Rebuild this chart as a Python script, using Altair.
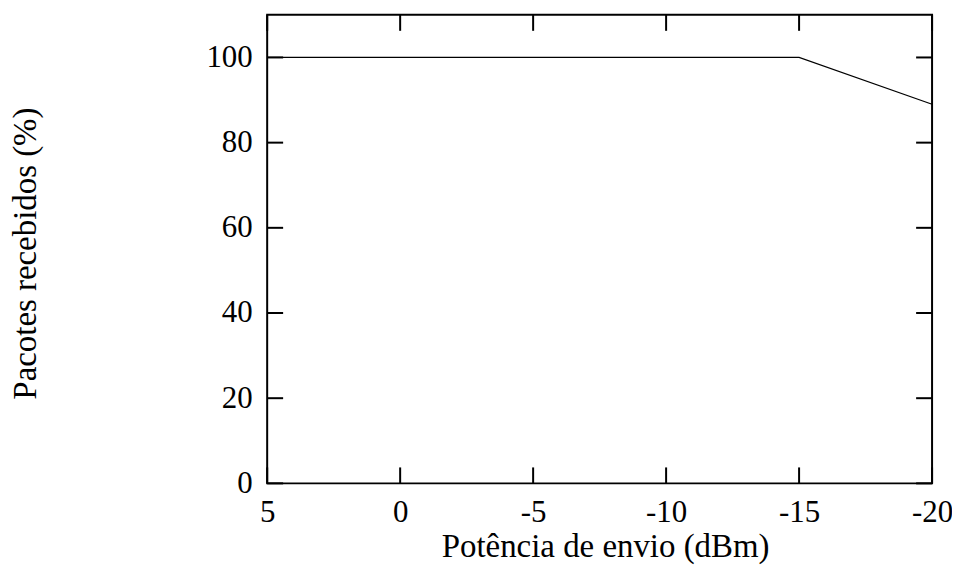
import altair as alt
import pandas as pd

# data
power_dbm = [5, 0, -5, -10, -15, -20]
received_pct = [100, 100, 100, 100, 100, 89]
x_ticks = [5, 0, -5, -10, -15, -20]
y_ticks = [0, 20, 40, 60, 80, 100]

W, H = 667, 470
FONT = "Liberation Serif"

df = pd.DataFrame({"x": power_dbm, "y": received_pct})
dfx = pd.DataFrame({"x": x_ticks})
dfy = pd.DataFrame({"y": y_ticks})

xs = alt.Scale(domain=[-20, 5], reverse=True, nice=False, zero=False)
ys = alt.Scale(domain=[0, 110], nice=False, zero=False)

xaxis = alt.Axis(
    values=x_ticks, labelExpr="toString(datum.value)", title="Potência de envio (dBm)",
    domain=False, ticks=False, grid=False, labelPadding=14,
    labelFont=FONT, labelFontSize=31, labelColor="black",
    titleFont=FONT, titleFontSize=33, titleFontWeight="normal", titleColor="black",
    titleBaseline="alphabetic", titleY=73, titleX=339, labelFlush=False,
)
yaxis = alt.Axis(
    values=y_ticks, labelExpr="toString(datum.value)", title="Pacotes recebidos (%)",
    domain=False, ticks=False, grid=False, labelPadding=15,
    labelFont=FONT, labelFontSize=31, labelColor="black",
    titleFont=FONT, titleFontSize=33, titleFontWeight="normal", titleColor="black",
    titleBaseline="alphabetic", titleX=-232, titleY=239, titleAngle=270,
)

line = alt.Chart(df).mark_line(color="black", strokeWidth=1.2).encode(
    x=alt.X("x:Q", scale=xs, axis=xaxis),
    y=alt.Y("y:Q", scale=ys, axis=yaxis),
)

tick_style = dict(color="black", strokeWidth=2)
xt_bottom = alt.Chart(dfx).mark_rule(**tick_style).encode(
    x=alt.X("x:Q", scale=xs, axis=xaxis), y=alt.value(H), y2=alt.value(H - 16)
)
xt_top = alt.Chart(dfx).mark_rule(**tick_style).encode(
    x=alt.X("x:Q", scale=xs, axis=xaxis), y=alt.value(0), y2=alt.value(16)
)
yt_left = alt.Chart(dfy).mark_rule(**tick_style).encode(
    y=alt.Y("y:Q", scale=ys, axis=yaxis), x=alt.value(0), x2=alt.value(16)
)
yt_right = alt.Chart(dfy).mark_rule(**tick_style).encode(
    y=alt.Y("y:Q", scale=ys, axis=yaxis), x=alt.value(W), x2=alt.value(W - 16)
)

chart = (
    alt.layer(line, xt_bottom, xt_top, yt_left, yt_right)
    .properties(
        width=W, height=H,
        autosize=alt.AutoSizeParams(type="none"),
        padding={"left": 260, "top": 6, "right": 20, "bottom": 82},
        background="white",
    )
    .configure_view(stroke="black", strokeWidth=2)
)

chart.save("out.html", embed_options={"renderer": "svg", "actions": False})
